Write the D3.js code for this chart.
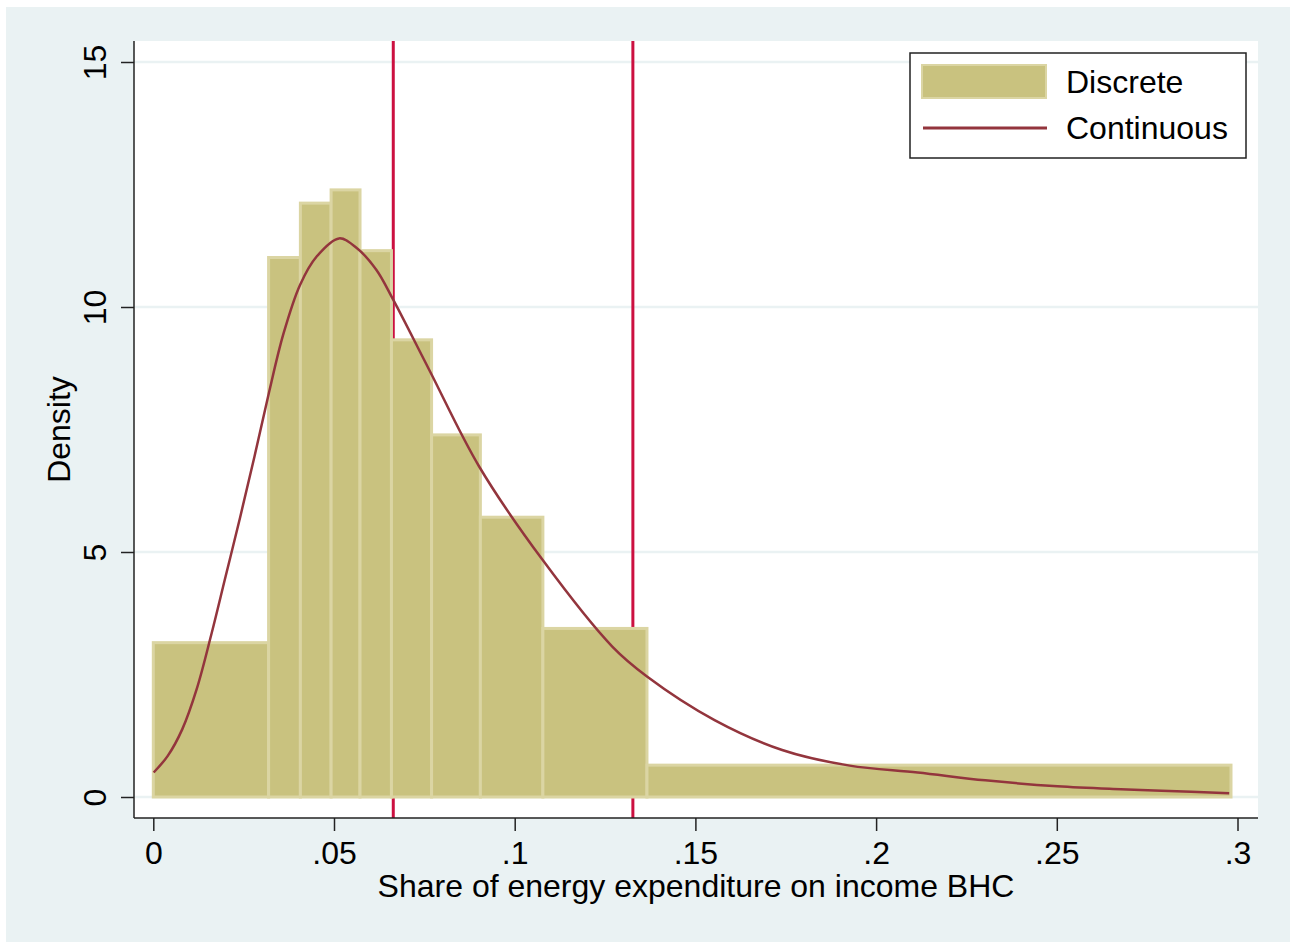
<!DOCTYPE html>
<html>
<head>
<meta charset="utf-8">
<script src="https://cdn.jsdelivr.net/npm/d3@7"></script>
<style>
  body { margin: 0; background: #fff; }
  svg text { font-family: "Liberation Sans", Arial, sans-serif; fill: #000; }
  .axis path.domain { display: none; }
  .axis line { stroke: #222; stroke-width: 1.5; }
</style>
</head>
<body>
<div id="chart"></div>
<script>
// histogram bins (share of energy expenditure), decile-like bins
var binEdges = [0, 0.0319, 0.0407, 0.0492, 0.0572, 0.0659, 0.0770, 0.0905, 0.1078, 0.1366, 0.2982]
var binDensity = [3.15, 11.01, 12.12, 12.39, 11.15, 9.33, 7.39, 5.71, 3.44, 0.65]

// fitted density curve
var curveX = [0.0001, 0.004, 0.008, 0.012, 0.016, 0.020, 0.024, 0.028, 0.032, 0.036, 0.0406,
  0.0452, 0.0514, 0.0562, 0.0617, 0.0663, 0.0764, 0.0902, 0.1077, 0.127, 0.1366, 0.1553,
  0.174, 0.1927, 0.2115, 0.2302, 0.2502, 0.2677, 0.279, 0.2977]
var curveY = [0.50, 0.84, 1.38, 2.2, 3.3, 4.5, 5.7, 6.95, 8.25, 9.45, 10.45,
  11.03, 11.40, 11.21, 10.76, 10.16, 8.71, 6.74, 4.84, 3.07, 2.46, 1.57,
  0.96, 0.64, 0.50, 0.34, 0.22, 0.16, 0.13, 0.075]

// vertical reference lines
var cutoffs = [0.0664, 0.1327]

var xTicks = [0, 0.05, 0.1, 0.15, 0.2, 0.25, 0.3]
var yTicks = [0, 5, 10, 15]
var legendLabels = ['Discrete', 'Continuous']

var width = 1290
var height = 942
var plot = { left: 134, right: 1258, top: 41, bottom: 818 }
var fontSize = '32px'

var barFill = '#c9c27f'
var barStroke = '#dbd5a3'
var curveColor = '#93353d'
var refColor = '#cc1040'
var bgColor = '#eaf2f3'

var x = d3.scaleLinear().domain([0, 0.3]).range([153.3, 1237.5])
var y = d3.scaleLinear().domain([0, 15]).range([797, 62])

var svg = d3.select('#chart').append('svg')
  .attr('width', width)
  .attr('height', height)

svg.append('rect')
  .attr('width', width).attr('height', height)
  .style('fill', '#fff')

svg.append('rect')
  .attr('x', 6).attr('y', 7)
  .attr('width', width - 6).attr('height', height - 7)
  .style('fill', bgColor)

// plot region
svg.append('rect')
  .attr('x', plot.left).attr('y', plot.top)
  .attr('width', plot.right - plot.left).attr('height', plot.bottom - plot.top)
  .style('fill', '#fff')

// gridlines
svg.selectAll('.grid')
  .data(yTicks)
  .enter().append('line')
  .attr('class', 'grid')
  .attr('x1', plot.left).attr('x2', plot.right)
  .attr('y1', function (d) { return y(d) })
  .attr('y2', function (d) { return y(d) })
  .style('stroke', bgColor)
  .style('stroke-width', 2.5)

// reference lines (behind the bars)
svg.selectAll('.ref')
  .data(cutoffs)
  .enter().append('line')
  .attr('class', 'ref')
  .attr('x1', function (d) { return x(d) })
  .attr('x2', function (d) { return x(d) })
  .attr('y1', plot.top).attr('y2', plot.bottom)
  .style('stroke', refColor)
  .style('stroke-width', 3)

// bars
svg.selectAll('.bar')
  .data(binDensity)
  .enter().append('rect')
  .attr('class', 'bar')
  .attr('x', function (d, i) { return x(binEdges[i]) })
  .attr('width', function (d, i) { return x(binEdges[i + 1]) - x(binEdges[i]) })
  .attr('y', function (d) { return y(d) })
  .attr('height', function (d) { return y(0) - y(d) })
  .style('fill', barFill)
  .style('stroke', barStroke)
  .style('stroke-width', 3)

// density curve
var line = d3.line()
  .x(function (d) { return x(d) })
  .y(function (d, i) { return y(curveY[i]) })
  .curve(d3.curveCatmullRom)

svg.append('path')
  .datum(curveX)
  .attr('d', line)
  .style('fill', 'none')
  .style('stroke', curveColor)
  .style('stroke-width', 2.5)

// axes
var fmt = function (d) { return d === 0 ? '0' : String(d).replace(/^0/, '') }

var xAxis = svg.append('g')
  .attr('class', 'axis')
  .attr('transform', 'translate(0,' + plot.bottom + ')')
  .call(d3.axisBottom(x).tickValues(xTicks).tickFormat(fmt).tickSize(13))
xAxis.selectAll('text')
  .attr('y', 46).attr('dy', 0)
  .style('font-size', fontSize)

var yAxis = svg.append('g')
  .attr('class', 'axis')
  .attr('transform', 'translate(' + plot.left + ',0)')
  .call(d3.axisLeft(y).tickValues(yTicks).tickSize(13))
yAxis.selectAll('text')
  .attr('x', 0).attr('y', -28).attr('dy', 0)
  .attr('transform', 'rotate(-90)')
  .style('text-anchor', 'middle')
  .style('font-size', fontSize)

svg.append('line')
  .attr('x1', plot.left).attr('x2', plot.left)
  .attr('y1', plot.top).attr('y2', plot.bottom)
  .style('stroke', '#222').style('stroke-width', 1.5)
svg.append('line')
  .attr('x1', plot.left).attr('x2', plot.right)
  .attr('y1', plot.bottom).attr('y2', plot.bottom)
  .style('stroke', '#222').style('stroke-width', 1.5)

// axis titles
svg.append('text')
  .attr('x', (plot.left + plot.right) / 2)
  .attr('y', 897)
  .style('text-anchor', 'middle')
  .style('font-size', fontSize)
  .text('Share of energy expenditure on income BHC')

svg.append('text')
  .attr('transform', 'translate(70,' + ((plot.top + plot.bottom) / 2) + ') rotate(-90)')
  .style('text-anchor', 'middle')
  .style('font-size', fontSize)
  .text('Density')

// legend
var legend = svg.append('g').attr('class', 'legend')
legend.append('rect')
  .attr('x', 910).attr('y', 53)
  .attr('width', 336).attr('height', 105)
  .style('fill', '#fff')
  .style('stroke', '#222')
  .style('stroke-width', 1.5)
legend.append('rect')
  .attr('x', 922).attr('y', 65)
  .attr('width', 124).attr('height', 33)
  .style('fill', barFill)
  .style('stroke', barStroke)
  .style('stroke-width', 2)
legend.append('line')
  .attr('x1', 923).attr('x2', 1047)
  .attr('y1', 128).attr('y2', 128)
  .style('stroke', curveColor)
  .style('stroke-width', 3)
legend.selectAll('.legendLabel')
  .data(legendLabels)
  .enter().append('text')
  .attr('class', 'legendLabel')
  .attr('x', 1066)
  .attr('y', function (d, i) { return 93 + i * 46 })
  .style('font-size', fontSize)
  .text(function (d) { return d })
</script>
</body>
</html>
